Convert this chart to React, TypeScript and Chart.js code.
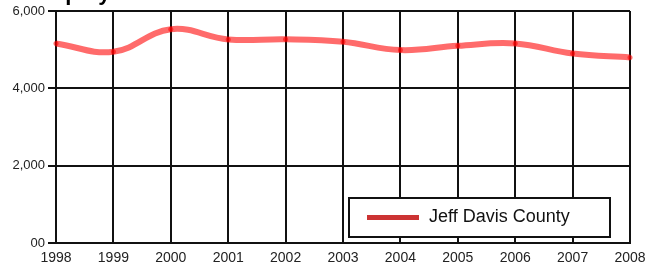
import React, { useEffect, useRef } from "react";
import { Chart, registerables } from "chart.js";

Chart.register(...registerables);

const years = ["1998", "1999", "2000", "2001", "2002", "2003", "2004", "2005", "2006", "2007", "2008"];
const jeffDavis = [5160, 4945, 5530, 5265, 5270, 5205, 4990, 5100, 5160, 4900, 4800];
const seriesName = "Jeff Davis County";
const titleText = "Employment";

const FONT = "Arial, 'Liberation Sans', sans-serif";

const overlayPlugin = {
  id: "overlay",
  afterDraw(chart: any) {
    const { ctx, chartArea } = chart;
    ctx.save();
    // cropped title
    ctx.font = `bold 22px ${FONT}`;
    ctx.fillStyle = "#000";
    ctx.textBaseline = "alphabetic";
    ctx.textAlign = "left";
    ctx.fillText(titleText, 31, 0);

    // legend box inside chart area
    const w = 261;
    const h = 39;
    const x = chartArea.right - 20 - w;
    const y = chartArea.bottom - 6 - h;
    ctx.fillStyle = "#fff";
    ctx.fillRect(x, y, w, h);
    ctx.strokeStyle = "#111";
    ctx.lineWidth = 2;
    ctx.strokeRect(x, y, w, h);
    ctx.fillStyle = "#cc3333";
    ctx.fillRect(x + 18, y + h / 2 - 2.5, 52, 5);
    ctx.font = `18px ${FONT}`;
    ctx.fillStyle = "#111";
    ctx.textBaseline = "middle";
    ctx.fillText(seriesName, x + 80, y + h / 2);
    ctx.restore();
  },
};

export default function App() {
  const ref = useRef<HTMLCanvasElement>(null);
  useEffect(() => {
    if (!ref.current) return;
    const chart = new Chart(ref.current, {
      type: "line",
      data: {
        labels: years,
        datasets: [
          {
            label: seriesName,
            data: jeffDavis,
            borderColor: "rgba(255,0,0,0.58)",
            backgroundColor: "rgba(255,0,0,0.58)",
            pointBackgroundColor: "rgba(255,0,0,0.6)",
            pointBorderColor: "rgba(255,0,0,0.6)",
            pointRadius: 2.5,
            pointBorderWidth: 0,
            borderWidth: 6,
            tension: 0.4,
            fill: false,
          },
        ],
      },
      options: {
        animation: false,
        responsive: false,
        maintainAspectRatio: false,
        layout: { padding: { top: 11, right: 23, left: 0, bottom: 0 } },
        plugins: {
          legend: { display: false },
          title: { display: false },
          tooltip: { enabled: false },
        },
        scales: {
          x: {
            afterFit(scale: any) {
              scale.height = 27;
            },
            grid: { color: "#111", lineWidth: 2, drawTicks: false },
            border: { color: "#111", width: 2 },
            ticks: {
              color: "#222",
              font: { family: FONT, size: 14 },
              padding: 7,
              maxRotation: 0,
              autoSkip: false,
            },
          },
          y: {
            min: 0,
            max: 6000,
            afterFit(scale: any) {
              scale.width = 56;
            },
            grid: { color: "#111", lineWidth: 2, drawTicks: true, tickLength: 8 },
            border: { color: "#111", width: 2 },
            ticks: {
              stepSize: 2000,
              color: "#222",
              font: { family: FONT, size: 13 },
              padding: 3,
              callback: (v: any) => (Number(v) === 0 ? "00" : Number(v).toLocaleString("en-US")),
            },
          },
        },
      },
      plugins: [overlayPlugin],
    });
    return () => chart.destroy();
  }, []);
  return (
    <div style={{ position: "absolute", left: 0, top: 0, width: 653, height: 270 }}>
      <canvas ref={ref} width={653} height={270} style={{ display: "block", width: 653, height: 270 }} />
    </div>
  );
}
